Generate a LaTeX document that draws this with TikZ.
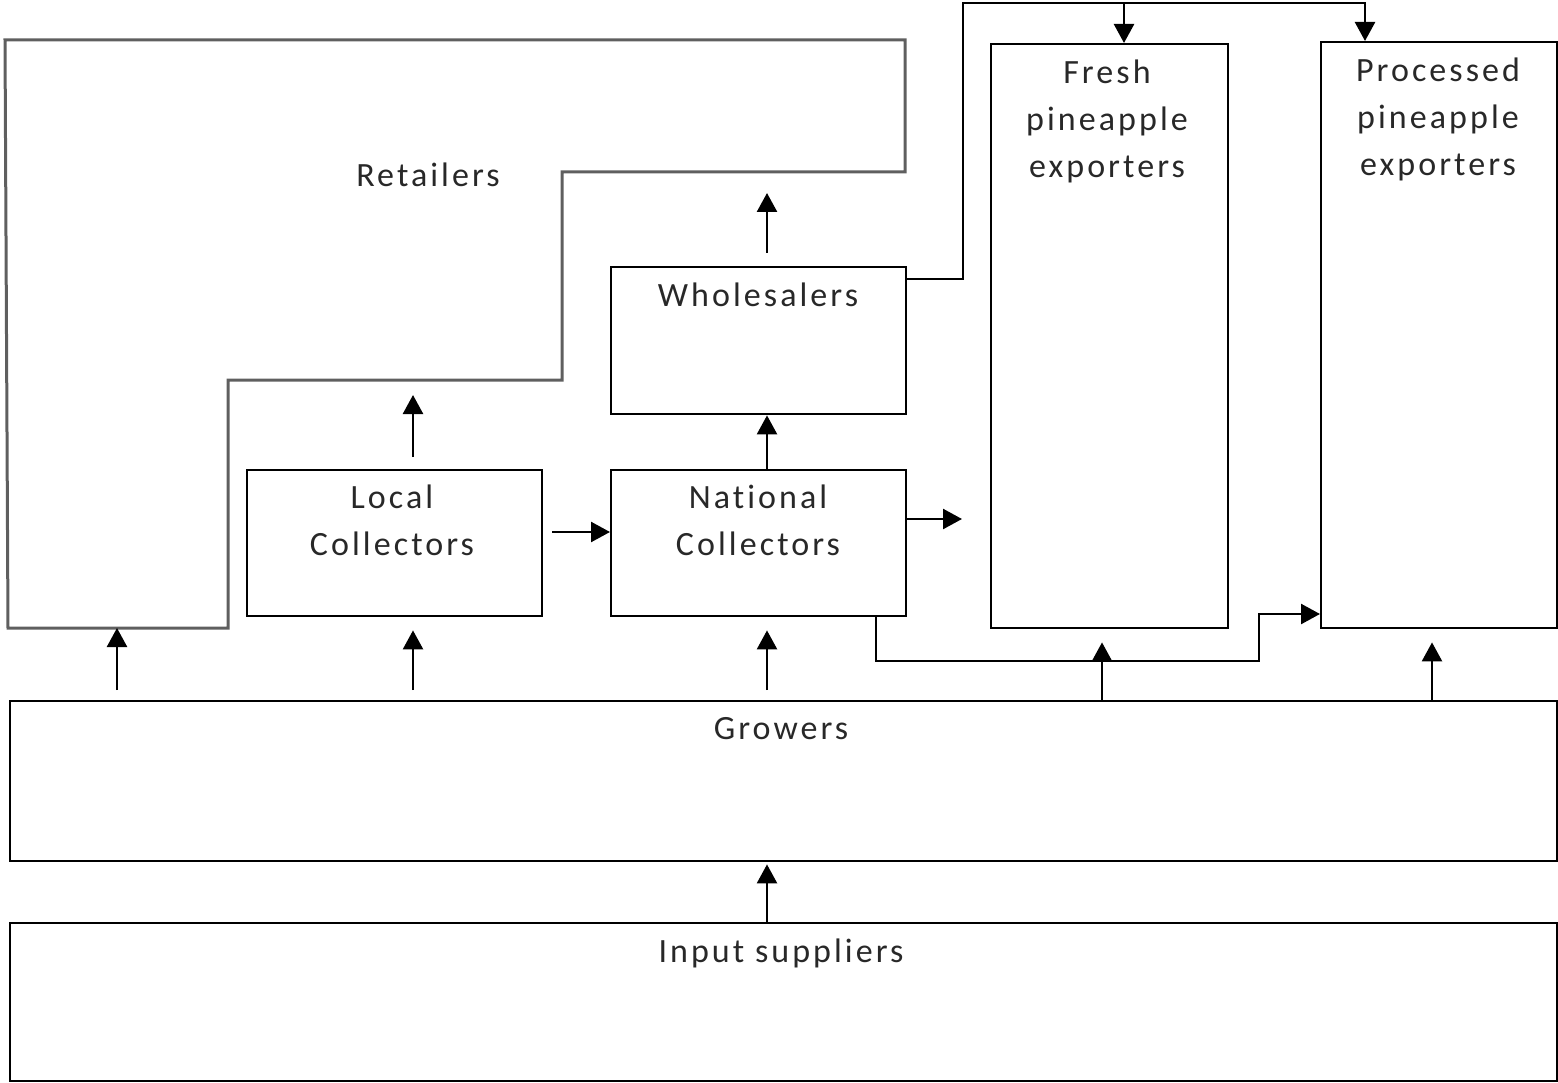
\documentclass[tikz,border=0pt]{standalone}
\usepackage{fontspec}
\setmainfont[LetterSpace=9,Ligatures=NoCommon]{Carlito}
\usetikzlibrary{arrows.meta}

\definecolor{inkgrey}{RGB}{40,40,40}
\definecolor{retlgrey}{RGB}{95,95,95}

\tikzset{
  box/.style={draw=black, line width=2.4pt, anchor=north west, inner sep=0pt},
  txt/.style={text=inkgrey, font=\fontsize{34}{47}\selectfont, align=center, inner sep=0pt, anchor=north},
  arr/.style={line width=2.5pt, -{Triangle[width=20pt,length=19pt]}},
  link/.style={line width=2.4pt},
  retl/.style={draw=retlgrey, line width=3pt},
}

\begin{document}
\begin{tikzpicture}[x=1pt,y=1pt,yscale=-1]
\useasboundingbox (0,0) rectangle (1558,1083);

%Retailers outline
\coordinate (r1) at (5,40);
\coordinate (r2) at (905,40);
\coordinate (r3) at (905,172);
\coordinate (r4) at (562,172);
\coordinate (r5) at (562,380);
\coordinate (r6) at (228,380);
\coordinate (r7) at (228,628);
\coordinate (r8) at (8,628);
\draw[retl] (r1) -- (r2) -- (r3) -- (r4) -- (r5) -- (r6) -- (r7) -- (r8) -- cycle;

%Boxes
\node[box, minimum width=295pt, minimum height=147pt] (whol) at (610,266) {};
\node[box, minimum width=295pt, minimum height=146pt] (locc) at (246,469) {};
\node[box, minimum width=295pt, minimum height=146pt] (natc) at (610,469) {};
\node[box, minimum width=237pt, minimum height=584pt] (fexp) at (990,43) {};
\node[box, minimum width=236pt, minimum height=586pt] (pexp) at (1320,41) {};
\node[box, minimum width=1547pt, minimum height=160pt] (grow) at (9,700) {};
\node[box, minimum width=1547pt, minimum height=158pt] (inpt) at (9,922) {};

% Text Nodes
\node[txt] (retx) at (428,163) {Retailers};
\node[txt] (whtx) at (758,283) {Wholesalers};
\node[txt] (lctx) at (392,485) {Local\\Collectors};
\node[txt] (nctx) at (758,485) {National\\Collectors};
\node[txt] (fetx) at (1107,60) {Fresh\\pineapple\\exporters};
\node[txt] (petx) at (1438,58) {Processed\\pineapple\\exporters};
\node[txt] (grtx) at (781,717) {Growers};
\node[txt] (intx) at (781,939) {Input suppliers};

%Arrow columns
\coordinate (cb) at (413,0);
\coordinate (cc) at (767,0);
\coordinate (cd) at (1102,0);
\coordinate (ce) at (1432,0);
\coordinate (ra) at (117,628);

%Growers upwards
\draw[arr, shorten <=10pt] (grow.north -| ra) -- (ra);
\draw[arr, shorten <=10pt, shorten >=13pt] (grow.north -| cb) -- (locc.south -| cb);
\draw[arr, shorten <=10pt, shorten >=13pt] (grow.north -| cc) -- (natc.south -| cc);
\draw[arr, shorten >=13pt] (grow.north -| cd) -- (fexp.south -| cd);
\draw[arr, shorten >=13pt] (grow.north -| ce) -- (pexp.south -| ce);
\draw[arr, shorten >=2pt] (inpt.north -| cc) -- (grow.south -| cc);

%Collectors and wholesalers
\coordinate (ly) at (0,532);
\draw[arr, shorten <=12pt, shorten >=15pt] (locc.north -| cb) -- (cb |- r6);
\draw[arr, shorten <=9pt] (locc.east |- ly) -- (natc.west |- ly);
\draw[arr] (natc.north -| cc) -- (whol.south -| cc);
\draw[arr, shorten <=13pt, shorten >=21pt] (whol.north -| cc) -- (cc |- r3);
\coordinate (nout) at (962,519);
\draw[arr] (natc.east |- nout) -- (nout);

%Wholesalers to exporters
\coordinate (wy) at (0,279);
\coordinate (wt) at (963,3);
\coordinate (wf) at (1124,3);
\coordinate (wp) at (1365,3);
\draw[arr] (whol.east |- wy) -| (wt) -| (pexp.north -| wp);
\draw[arr] (wf) -- (fexp.north -| wf);

%National collectors to processed exporters
\coordinate (nb) at (876,661);
\coordinate (nk) at (1259,614);
\draw[arr] (natc.south -| nb) |- (nk |- nb) -- (nk) -- (pexp.west |- nk);

\end{tikzpicture}
\end{document}
